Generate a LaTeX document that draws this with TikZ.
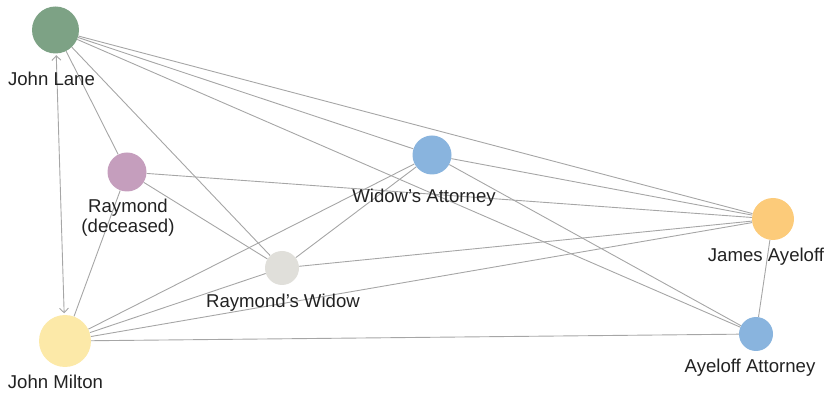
\documentclass[tikz,border=0pt]{standalone}
\usepackage{fontspec}
\setmainfont{Liberation Sans}
\usetikzlibrary{arrows.meta,backgrounds}
\definecolor{lanegreen}{HTML}{7DA285}
\definecolor{miltonyellow}{HTML}{FCE9A8}
\definecolor{raymauve}{HTML}{C59EBD}
\definecolor{attblue}{HTML}{89B4DE}
\definecolor{widowgray}{HTML}{E0DFDA}
\definecolor{jamesorange}{HTML}{FCCB7A}
\definecolor{linkgray}{HTML}{A6A6A6}
\definecolor{labelgray}{HTML}{222222}
\tikzset{barb/.tip={Straight Barb[length=4.5pt,width=9pt,line width=0.9pt]}}
\begin{document}
\begin{tikzpicture}[x=1pt,y=-1pt,
  person/.style={circle,inner sep=0pt,minimum size=#1,draw=none},
  tag/.style={anchor=base,text=labelgray,inner sep=0pt,
    font=\fontsize{18.6}{20}\selectfont},
  link/.style={draw=linkgray,line width=0.9pt}
]
\useasboundingbox (0,0) rectangle (828,395);

% people
\node[person=47pt,fill=lanegreen]   (lane)   at (55.5,30)  {};
\node[person=52pt,fill=miltonyellow](milton) at (65,341)   {};
\node[person=39pt,fill=raymauve]    (ray)    at (127,172)  {};
\node[person=39pt,fill=attblue]     (watt)   at (432,155)  {};
\node[person=34pt,fill=widowgray]   (widow)  at (282,268)  {};
\node[person=42pt,fill=jamesorange] (james)  at (773,219)  {};
\node[person=34pt,fill=attblue]     (aatt)   at (756,334)  {};

% names
\node[tag] (lanetag)   at (51.5,86)  {John Lane};
\node[tag] (miltontag) at (55.5,389) {John Milton};
\node[tag,align=center] (raytag) at (128,233) {Raymond\\(deceased)};
\node[tag] (watttag)   at (424,203)  {Widow’s Attorney};
\node[tag] (widowtag)  at (283,308)  {Raymond’s Widow};
\node[tag] (jamestag)  at (766,262)  {James Ayeloff};
\node[tag] (aatttag)   at (750,373)  {Ayeloff Attorney};

% relations
\begin{scope}[on background layer]
  \draw[link,barb-barb,shorten <=1.5pt,shorten >=1.5pt] (lane) -- (milton);
  \draw[link] (lane) -- (ray);
  \draw[link] (lane) -- (widow);
  \draw[link] (lane) -- (watt);
  \draw[link] (lane) -- (james);
  \draw[link] (lane) -- (aatt);
  \draw[link] (ray) -- (milton);
  \draw[link] (ray) -- (james);
  \draw[link] (ray) -- (widow);
  \draw[link] (watt) -- (james);
  \draw[link] (watt) -- (aatt);
  \draw[link] (watt) -- (widow);
  \draw[link] (watt) -- (milton);
  \draw[link] (widow) -- (james);
  \draw[link] (widow) -- (milton);
  \draw[link] (milton) -- (james);
  \draw[link] (milton) -- (aatt);
  \draw[link] (james) -- (aatt);
\end{scope}
\end{tikzpicture}
\end{document}
